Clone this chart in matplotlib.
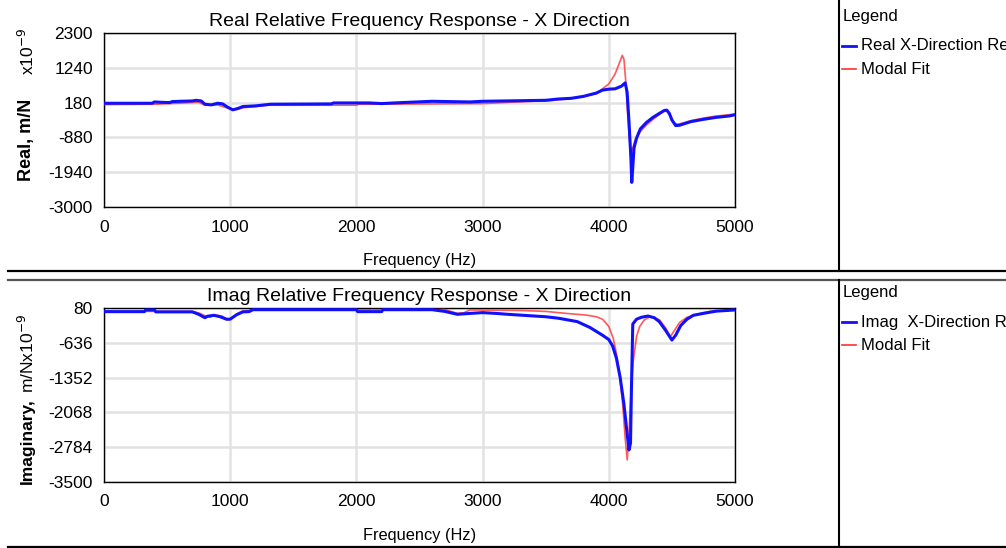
import matplotlib
matplotlib.use("Agg")
import matplotlib.pyplot as plt
from matplotlib.lines import Line2D

plt.rcParams['font.family'] = ['Liberation Sans', 'DejaVu Sans']
plt.rcParams['axes.unicode_minus'] = False

# ---- data, values in m/N x 1e-9 ----
real_meas_f = [0, 380, 400, 450, 520, 540, 600, 700, 730, 770, 800, 850, 900, 940, 980, 1020, 1060, 1100,
               1200, 1320, 1800, 1820, 2100, 2200, 2300, 2600, 2900, 3000, 3500, 3600, 3700, 3800, 3900,
               3950, 4000, 4050, 4100, 4130, 4145, 4160, 4175, 4182, 4190, 4200, 4220, 4250, 4300, 4350,
               4400, 4440, 4460, 4480, 4500, 4530, 4560, 4650, 4750, 4850, 4950, 5000]
real_meas = [160, 160, 200, 190, 180, 210, 220, 230, 250, 230, 130, 110, 160, 140, 40, -40, 0, 60,
             80, 130, 140, 170, 170, 150, 170, 220, 200, 220, 250, 290, 310, 370, 470,
             560, 590, 600, 680, 780, 500, -400, -1500, -2250, -1800, -1200, -900, -620, -420, -270,
             -150, -60, -50, -150, -350, -520, -510, -400, -330, -270, -230, -190]

real_fit_f = [0, 400, 700, 750, 800, 900, 1000, 1050, 1100, 1300, 2000, 2020, 2600, 3000, 3400, 3500,
              3700, 3900, 3950, 4000, 4050, 4080, 4107, 4120, 4135, 4150, 4165, 4175, 4190, 4210, 4250,
              4300, 4350, 4400, 4430, 4460, 4490, 4520, 4550, 4650, 4750, 4850, 4950, 5000]
real_fit = [120, 130, 180, 190, 100, 110, -10, -30, 20, 100, 100, 130, 140, 150, 220, 230,
            300, 450, 600, 750, 1050, 1350, 1620, 1500, 800, -200, -1000, -1370, -1200, -950, -700,
            -500, -330, -190, -90, -80, -250, -450, -480, -370, -290, -230, -190, -170]

imag_meas_f = [0, 320, 330, 400, 410, 700, 750, 800, 820, 870, 920, 970, 1000, 1050, 1100, 1150, 1180,
               2000, 2010, 2200, 2210, 2600, 2700, 2800, 2850, 3000, 3100, 3200, 3500, 3600, 3750, 3850,
               3950, 4000, 4030, 4060, 4090, 4120, 4145, 4160, 4172, 4180, 4190, 4220, 4260, 4310, 4360,
               4400, 4450, 4500, 4530, 4570, 4620, 4670, 4750, 4850, 5000]
imag_meas = [5, 5, 40, 40, 0, 0, -50, -120, -90, -70, -100, -150, -150, -60, 0, 5, 45,
             45, 5, 5, 45, 45, 10, -50, -40, -15, -30, -50, -100, -130, -200, -320,
             -480, -570, -700, -950, -1350, -1900, -2500, -2840, -2700, -1500, -250, -150, -110, -85, -120,
             -200, -380, -580, -480, -280, -150, -70, -30, 15, 40]

imag_fit_f = [0, 700, 750, 800, 840, 880, 940, 980, 1020, 1060, 1100, 1200, 2600, 2700, 2800, 2850, 2900,
              3300, 3500, 3700, 3820, 3900, 3950, 4000, 4035, 4060, 4087, 4110, 4130, 4146, 4160, 4175,
              4193, 4220, 4245, 4280, 4324, 4360, 4403, 4450, 4488, 4520, 4560, 4620, 4700, 4800, 5000]
imag_fit = [10, 10, -20, -80, -110, -60, -90, -170, -110, -30, 20, 40, 45, 50, -30, -20, 40,
            30, 10, -40, -65, -100, -150, -300, -540, -850, -1300, -1900, -2600, -3045, -2500, -1700,
            -1025, -500, -300, -170, -100, -120, -165, -330, -510, -380, -220, -110, -50, 10, 40]

real_ticks = [2300, 1240, 180, -880, -1940, -3000]
imag_ticks = [80, -636, -1352, -2068, -2784, -3500]
freq_ticks = [0, 1000, 2000, 3000, 4000, 5000]

W, H = 1006, 548
fig = plt.figure(figsize=(W / 100, H / 100), dpi=100)


def box(x0, y0, x1, y1):
    return [x0 / W, 1 - y1 / H, (x1 - x0) / W, (y1 - y0) / H]


def hline(y, x0, x1, color='black', lw=1.5):
    fig.add_artist(Line2D([x0 / W, x1 / W], [1 - y / H, 1 - y / H], color=color, lw=lw))


def vline(x, y0, y1, color='black', lw=1.5):
    fig.add_artist(Line2D([x / W, x / W], [1 - y0 / H, 1 - y1 / H], color=color, lw=lw))


def panel(top, bottom, f_meas, meas, f_fit, fit, ticks, title):
    ax = fig.add_axes(box(104, top, 735, bottom))
    ax.plot(f_fit, fit, color='#ff3030', lw=1.2, alpha=0.8, zorder=3)
    ax.plot(f_meas, meas, color='#1010ff', lw=2.2, zorder=4)
    ax.set_xlim(0, 5000)
    ax.set_ylim(ticks[-1], ticks[0])
    ax.set_yticks(ticks)
    ax.set_xticks(freq_ticks)
    ax.grid(True, color='#e2e2e2', lw=1.8)
    ax.set_axisbelow(True)
    ax.tick_params(axis='y', length=0, labelsize=12.5, pad=8)
    ax.tick_params(axis='x', length=0, labelsize=12.5, pad=9)
    for s in ax.spines.values():
        s.set_linewidth(1.0)
    ax.set_title(title, fontsize=14, pad=5)
    ax.set_xlabel('Frequency (Hz)', fontsize=11.8, labelpad=13)
    return ax


panel(33, 207, real_meas_f, real_meas, real_fit_f, real_fit, real_ticks,
      'Real Relative Frequency Response - X Direction')
panel(308, 482, imag_meas_f, imag_meas, imag_fit_f, imag_fit, imag_ticks,
      'Imag Relative Frequency Response - X Direction')

# y axis labels
fig.text(27 / W, 1 - 140 / H, 'Real, m/N', rotation=90, fontsize=13, fontweight='bold',
         ha='center', va='center')
fig.text(27 / W, 1 - 51 / H, r'x10$^{-9}$', rotation=90, fontsize=12.5, ha='center', va='center')
fig.text(27 / W, 1 - 441 / H, 'Imaginary,', rotation=90, fontsize=12.5, fontweight='bold',
         ha='center', va='center')
fig.text(27 / W, 1 - 353 / H, r'm/Nx10$^{-9}$', rotation=90, fontsize=12.5, ha='center', va='center')

# frames and legend panels
hline(271, 8, W, lw=1.6)
hline(279.5, 8, W, color='#555555', lw=1.6)
hline(546.5, 8, W, lw=1.6)
vline(838.5, 0, 271)
vline(838.5, 279.5, 546.5)

for y0, name in [(0, 'Real X-Direction Relative'),
                 (276, 'Imag  X-Direction Relative')]:
    fig.text(843 / W, 1 - (y0 + 16) / H, 'Legend', fontsize=12, va='center')
    fig.add_artist(Line2D([842 / W, 856 / W], [1 - (y0 + 46) / H] * 2, color='#1010ff', lw=2))
    fig.text(861 / W, 1 - (y0 + 46) / H, name, fontsize=12, va='center')
    fig.add_artist(Line2D([842 / W, 856 / W], [1 - (y0 + 69) / H] * 2, color='#ff3030', lw=1.2))
    fig.text(861 / W, 1 - (y0 + 69) / H, 'Modal Fit', fontsize=12, va='center')

fig.savefig('out.png', dpi=100)
